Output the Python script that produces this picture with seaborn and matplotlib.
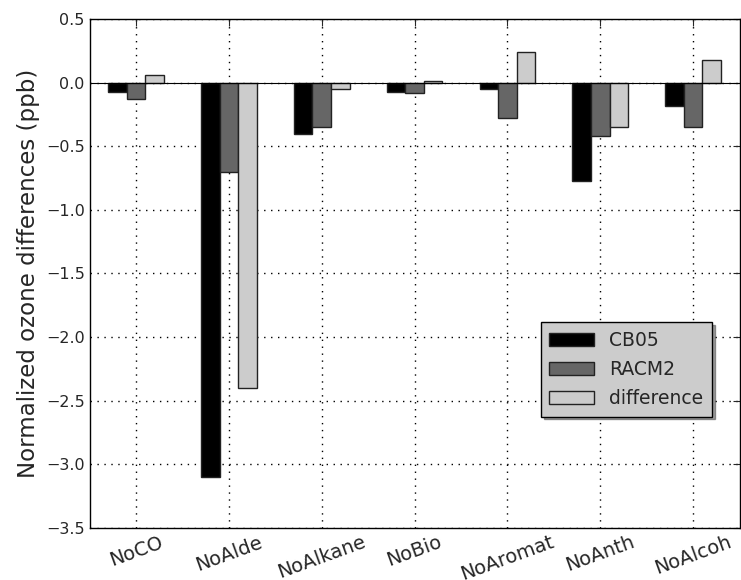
import numpy as np
import pandas as pd
import matplotlib
matplotlib.use("Agg")
import matplotlib.pyplot as plt
import seaborn as sns

# experiments and normalized ozone differences (ppb)
cases = ["NoCO", "NoAlde", "NoAlkane", "NoBio", "NoAromat", "NoAnth", "NoAlcoh"]
cb05 = [-0.07, -3.10, -0.40, -0.07, -0.05, -0.77, -0.18]
racm2 = [-0.13, -0.70, -0.35, -0.08, -0.28, -0.42, -0.35]
difference = [0.06, -2.40, -0.05, 0.01, 0.24, -0.35, 0.18]

series_names = ["CB05", "RACM2", "difference"]
colors = ["#000000", "#666666", "#cccccc"]

df = pd.DataFrame({
    "case": cases * 3,
    "value": cb05 + racm2 + difference,
    "series": np.repeat(series_names, len(cases)),
})

sns.set_style("white")
plt.rcParams["font.family"] = ["DejaVu Sans"]

fig = plt.figure(figsize=(7.41, 5.80), dpi=100)
ax = fig.add_axes([0.121, 0.090, 0.877, 0.877])

sns.barplot(data=df, x="case", y="value", hue="series", palette=colors,
            width=0.6, gap=0, edgecolor="#222222", linewidth=1.0,
            saturation=1, errorbar=None, ax=ax)

ax.axhline(0, color="black", linewidth=0.8, zorder=1)
ax.set_xlim(-0.5, 6.5)
ax.set_ylim(-3.5, 0.5)
ax.set_yticks(np.arange(-3.5, 0.51, 0.5))
ax.set_xlabel("")
ax.set_ylabel("Normalized ozone differences (ppb)", fontsize=16.5)

ax.grid(True, linestyle=(0, (1, 4)), color="black", linewidth=1.0)
ax.set_axisbelow(True)
ax.tick_params(direction="in", length=5, top=True, right=True,
               labelsize=11.5, width=0.8)
plt.setp(ax.get_xticklabels(), rotation=20, fontsize=14)
for s in ax.spines.values():
    s.set_color("black")
    s.set_linewidth(1.0)

handles, labels = ax.get_legend_handles_labels()
leg = ax.legend(handles, labels, loc="lower right", bbox_to_anchor=(0.972, 0.2),
                fontsize=13.5, fancybox=False, shadow=True, framealpha=1,
                facecolor="#cccccc", edgecolor="black", handlelength=2.4,
                borderpad=0.45, labelspacing=0.55)

fig.savefig("out.png", dpi=100)
